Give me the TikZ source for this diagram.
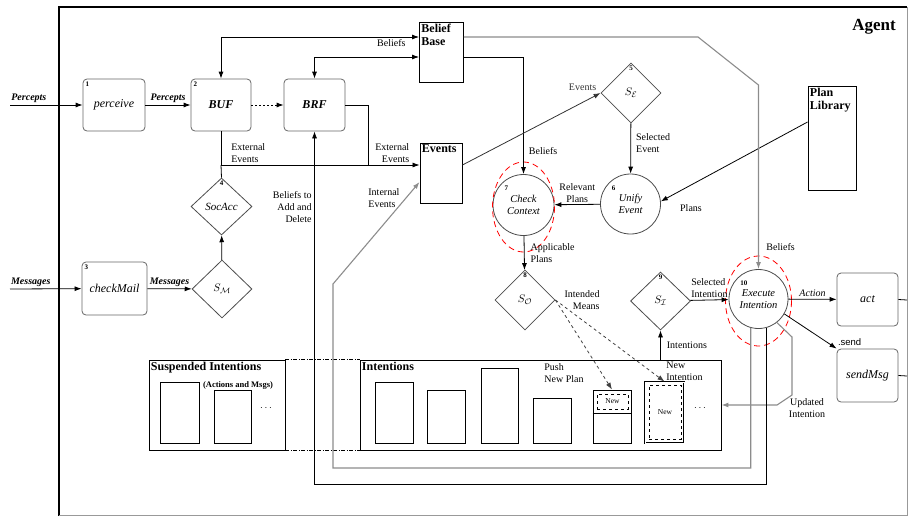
\documentclass[tikz,border=0pt]{standalone}
\usepackage{fontspec}
\setmainfont{Liberation Serif}
\setsansfont{Liberation Sans}
\usetikzlibrary{shapes.geometric,arrows.meta}

\tikzset{
  proc/.style={draw=black!60, rounded corners=4pt, minimum width=62, minimum height=52,
    font=\fontsize{12}{14}\selectfont\itshape},
  procb/.style={proc, font=\fontsize{12}{14}\selectfont\bfseries\itshape},
  selfn/.style={draw=black!70, diamond, aspect=1, inner sep=0pt, minimum width=60,
    minimum height=60, font=\fontsize{11}{13}\selectfont},
  stepc/.style={draw=black!70, circle, inner sep=0pt, minimum size=60, align=center,
    font=\fontsize{10.5}{12}\selectfont\itshape},
  store/.style={draw, line width=0.9pt},
  title/.style={font=\fontsize{12}{13}\selectfont\bfseries, align=left, inner sep=2pt},
  lbl/.style={font=\fontsize{10}{12}\selectfont, align=left, inner sep=2pt},
  elbl/.style={lbl, font=\fontsize{10}{12}\selectfont\bfseries\itshape},
  num/.style={font=\fontsize{7}{8}\selectfont\bfseries, inner sep=2.5pt},
  queue/.style={draw, line width=0.9pt},
  loopline/.style={draw=black!45, line width=1.1pt},
  redring/.style={red, line width=0.8pt, dash pattern=on 6pt off 4pt},
}

\begin{document}
\begin{tikzpicture}[x=1pt,y=-1pt,line width=0.8pt,>={Latex[length=7pt,width=5pt]}]
  \useasboundingbox (0,0) rectangle (908,517);

  % agent frame
  \draw[line width=1.6pt] (59,516) -- (59,7) -- (907,7);
  \draw[black!40] (907,7) -- (907,515) -- (59,515);
  \node[font=\fontsize{17}{19}\selectfont\bfseries] (agent) at (874,27) {Agent};

  % processes
  \node[proc, label={[num, anchor=north west]north west:1}] (perceive) at (114,105) {perceive};
  \node[procb, minimum width=60, label={[num, anchor=north west]north west:2}] (buf) at (221,105) {BUF};
  \node[procb, minimum width=61] (brf) at (314.5,105) {BRF};
  \node[proc, minimum width=65, minimum height=53, label={[num, anchor=north west]north west:3}] (mail) at (114.5,288.5) {checkMail};
  \node[proc, minimum width=61, minimum height=53] (act) at (867.5,299.5) {act};
  \node[proc, minimum width=61, minimum height=53] (sendmsg) at (867.5,375.5) {sendMsg};

  % stores
  \node[store, minimum width=44, minimum height=60, label={[title, anchor=north west]north west:{Belief\\Base}}] (bb) at (441.5,52) {};
  \node[store, minimum width=42, minimum height=60, label={[title, anchor=north west]north west:Events}] (ev) at (441,173) {};
  \node[store, minimum width=48, minimum height=104, label={[title, anchor=north west]north west:{Plan\\Library}}] (pl) at (832,138) {};

  % selection functions
  \node[selfn, label={[num, anchor=north]north:5}] (se) at (631,93) {$S_{\mathcal{E}}$};
  \node[selfn, label={[num, anchor=north]north:8}] (so) at (525,300) {$S_{\mathcal{O}}$};
  \node[selfn, minimum height=58, label={[num, anchor=north]north:9}] (si) at (660.5,301) {$S_{\mathcal{I}}$};
  \node[selfn, minimum width=61, minimum height=57, font=\fontsize{11}{13}\selectfont\itshape, label={[num, anchor=north]north:4}] (socacc) at (221.5,206.5) {SocAcc};
  \node[selfn, minimum height=58] (sm) at (222,289) {$S_{\mathcal{M}}$};

  % reasoning steps
  \node[stepc, minimum size=61, label={[num, anchor=north west]north west:7}] (check) at (523.5,205) {Check\\Context};
  \node[stepc, label={[num, anchor=north west]north west:6}] (unify) at (630.5,204) {Unify\\Event};
  \node[stepc, minimum size=59, label={[num, anchor=north west]north west:10}] (exec) at (758.5,299) {Execute\\Intention};
  \draw[redring] ([yshift=-2pt]check.center) ellipse (31 and 45);
  \draw[redring] ([yshift=-2pt]exec.center) ellipse (33 and 45);

  % intention stacks
  \node[queue, minimum width=136, minimum height=90, label={[title, anchor=north west]north west:Suspended Intentions}] (susp) at (217,405) {};
  \node[font=\fontsize{8.5}{9}\selectfont\bfseries, inner sep=0pt] (actmsg) at (238,385) {(Actions and Msgs)};
  \node[queue, minimum width=39, minimum height=61] (s1) at (179.5,412.5) {};
  \node[queue, minimum width=37, minimum height=53] (s2) at (232.5,416.5) {};
  \node (sdots) at (266,408) {$\cdots$};

  \node[queue, minimum width=361, minimum height=90, label={[title, anchor=north west]north west:Intentions}] (ints) at (540.5,405) {};
  \node[queue, minimum width=38, minimum height=61] (i1) at (394,412.5) {};
  \node[queue, minimum width=38, minimum height=53] (i2) at (446,416.5) {};
  \node[queue, minimum width=37, minimum height=75] (i3) at (499.5,405.5) {};
  \node[queue, minimum width=38, minimum height=45] (i4) at (552,420.5) {};
  \node[queue, minimum width=38, minimum height=53] (i5) at (612,416.5) {};
  \draw (i5.west |- 0,413) -- (i5.east |- 0,413);
  \node[draw, dashed, minimum width=31, minimum height=15, inner sep=0pt, font=\fontsize{7.5}{8}\selectfont] (new1) at (612.5,401.5) {New};
  \node[queue, double, double distance=1pt, minimum width=39, minimum height=61] (i6) at (664.5,412.5) {};
  \node[draw, dashed, minimum width=32, minimum height=54, inner sep=0pt, font=\fontsize{7.5}{8}\selectfont] (new2) at (665,412) {New};
  \node (idots) at (700,408) {$\cdots$};
  \node[lbl, anchor=north west] (push) at (542,361) {Push\\New Plan};
  \node[lbl, anchor=north west, inner sep=0pt] (newint) at (666,362) {New\\Intention};
  \draw[thin, dash pattern=on 4pt off 1.5pt on 1pt off 1.5pt] (susp.north east) -- (ints.north west);
  \draw[thin, dash pattern=on 4pt off 1.5pt on 1pt off 1.5pt] (susp.south east) -- (ints.south west);

  % perception and messages
  \coordinate (pin) at (10,105);
  \coordinate (min) at (10,289);
  \draw[->] (pin) -- node[elbl, above, pos=0.26] {Percepts} (perceive);
  \draw[->] (perceive) -- node[elbl, above] {Percepts} (buf);
  \draw[->, dash pattern=on 2pt off 2pt] (buf) -- (brf);
  \draw[->] (min) -- node[elbl, above, pos=0.29] {Messages} (mail);
  \draw[->] (mail) -- node[elbl, above] {Messages} (sm);
  \draw[->] (sm) -- (socacc);

  % belief base links
  \draw[<->] (buf.north) |- node[lbl, below, pos=0.93] {Beliefs} ([yshift=15pt]bb.west);
  \draw[<->] (brf.north) |- ([yshift=-5pt]bb.west);
  \draw[->] ([yshift=-5pt]bb.east) -| node[lbl, right, pos=0.9, xshift=3pt] {Beliefs} (check.north);

  % external events
  \coordinate (j0) at (221,165);
  \coordinate (j1) at (368,165);
  \draw (buf.south) -- (j0);
  \draw (socacc.north) -- (j0);
  \draw (brf.east) -| (j1);
  \draw[->] (j0) -- node[lbl, anchor=south west, pos=0.04] {External\\Events}
    node[lbl, align=right, anchor=south east, pos=0.96] {External\\Events} (ev.west |- j0);

  % event and plan selection
  \draw[->, black!80] ([yshift=8pt]ev.east) -- node[lbl, pos=1, above left, xshift=-2pt] {Events} (se.west);
  \draw[->] (se) -- node[lbl, right, pos=0.4, xshift=3pt] {Selected\\Event} (unify);
  \draw[->] ([yshift=16pt]pl.west) -- (unify.5);
  \node[lbl] (plans) at (691,208) {Plans};
  \draw[->] (unify) -- node[lbl, above, align=center] {Relevant\\Plans} (check);
  \draw[->] (check) -- node[lbl, right, xshift=4pt] {Applicable\\Plans} (so);
  \draw[->, dashed, black!75] (so.east) -- (i5.north);
  \draw[->, dashed, black!75] (so.east) -- (i6.north);
  \node[lbl, align=right, anchor=east] (means) at (602,300) {Intended\\Means};

  % intention selection and execution
  \draw[->] (ints.north -| si) -- node[lbl, right, xshift=4pt] {Intentions} (si.south);
  \draw[->] (si) -- node[lbl, above] {Selected\\Intention} (exec);
  \draw[->] (exec) -- node[lbl, above, font=\fontsize{10}{12}\selectfont\itshape] {Action} (act);
  \draw[->] (exec.-30) -- node[pos=1, anchor=south west, inner sep=1pt, yshift=2pt, font=\fontsize{9.5}{11}\selectfont\sffamily] {.send} (sendmsg.north west);
  \coordinate (o1) at (907,300);
  \coordinate (o2) at (907,376);
  \draw (act.east) -- (o1);
  \draw (sendmsg.east) -- (o2);

  % belief access for execution
  \coordinate (k1) at (698,37);
  \coordinate (k2) at (758.5,85);
  \draw[->, loopline] ([yshift=15pt]bb.east) -- (k1) -- (k2) -- (exec.north);
  \node[lbl, anchor=west] (bel2) at (764,247) {Beliefs};

  % updated intention
  \coordinate (u1) at (792,337);
  \coordinate (u2) at (792,395);
  \coordinate (u3) at (777,405);
  \draw[->, loopline] (exec.-52) -- (u1) -- (u2) -- (u3) -- (ints.east);
  \node[lbl, align=center] (updint) at (807,408) {Updated\\Intention};

  % internal events and belief updates
  \coordinate (g1) at (333,468);
  \coordinate (g2) at (333,284);
  \draw[->, loopline] (exec.-105) |- (g1) -- (g2) -- ([yshift=-9pt]ev.west);
  \node[lbl, anchor=west] (intev) at (366,198) {Internal\\Events};
  \coordinate (b2) at (314.5,484);
  \draw[->] (exec.-75) |- (b2) -- (brf.south);
  \node[lbl, align=right, anchor=east] (addel) at (314,207) {Beliefs to\\Add and\\Delete};
\end{tikzpicture}
\end{document}
